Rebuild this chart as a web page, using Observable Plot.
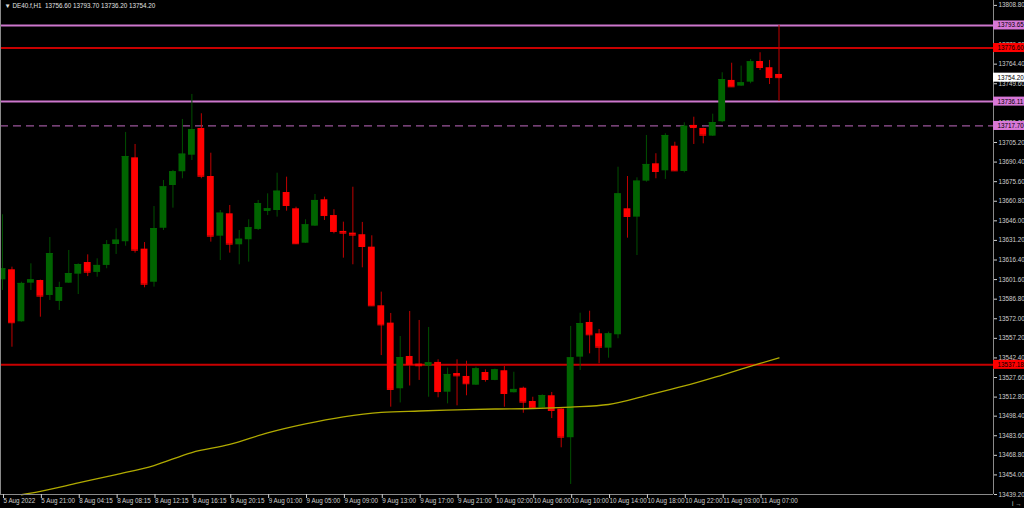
<!DOCTYPE html>
<html><head><meta charset="utf-8">
<script src="https://cdn.jsdelivr.net/npm/d3@7"></script>
<script src="https://cdn.jsdelivr.net/npm/@observablehq/plot@0.6"></script>
<style>
html,body{margin:0;padding:0;background:#000;overflow:hidden}
#chart svg{display:block;overflow:visible}
</style></head><body><div id="chart"></div>
<script>
const symbol = "DE40.f,H1";
const opens = [13601.4,13609.0,13569.7,13598.9,13600.9,13589.6,13585.1,13598.9,13605.7,13614.5,
13607.0,13612.3,13628.1,13630.2,13693.6,13624.6,13599.6,13640.4,13672.7,13683.1,
13695.6,13715.8,13679.5,13634.4,13651.3,13627.9,13631.7,13639.5,13653.1,13653.8,
13667.4,13655.1,13629.1,13642.0,13661.9,13650.0,13638.0,13636.7,13635.5,13626.1,
13581.8,13568.7,13519.1,13543.5,13537.7,13536.2,13539.0,13516.5,13530.6,13528.4,
13521.8,13531.4,13525.4,13532.7,13516.1,13519.5,13509.5,13504.7,13513.8,13503.7,
13482.1,13543.0,13569.2,13560.6,13549.8,13559.9,13655.1,13648.8,13676.0,13689.1,
13683.8,13702.4,13683.3,13718.1,13715.8,13710.0,13720.9,13752.1,13747.8,13750.8,
13766.4,13761.7,13756.6];
const highs = [13650.6,13611.0,13599.6,13613.5,13601.2,13633.4,13599.6,13623.6,13613.5,13620.3,
13617.3,13631.1,13640.0,13712.8,13703.7,13629.6,13656.8,13676.5,13684.1,13722.6,
13741.5,13726.9,13697.1,13653.8,13657.6,13638.7,13646.8,13661.4,13666.4,13682.0,
13679.0,13656.3,13646.8,13665.9,13663.9,13654.4,13645.0,13671.4,13644.8,13634.7,
13592.1,13576.0,13558.6,13577.5,13570.7,13565.4,13541.0,13534.7,13541.0,13539.9,
13535.4,13533.4,13533.9,13535.9,13531.6,13520.3,13512.7,13514.5,13516.3,13503.9,
13566.2,13576.2,13577.7,13563.9,13561.9,13686.5,13679.5,13678.5,13710.5,13696.7,
13711.8,13705.4,13720.1,13724.3,13716.0,13726.6,13757.9,13765.1,13762.9,13767.9,
13773.0,13767.2,13793.7];
const lows = [13593.4,13550.5,13569.4,13593.4,13573.2,13585.8,13578.3,13598.7,13590.3,13603.9,
13603.4,13609.8,13620.6,13626.8,13621.6,13595.4,13595.9,13638.7,13655.6,13677.8,
13691.6,13677.8,13629.9,13616.0,13621.6,13612.8,13614.8,13638.7,13650.0,13648.8,
13653.3,13628.1,13628.9,13641.8,13646.3,13636.2,13617.8,13612.8,13610.5,13581.5,
13544.2,13505.2,13508.4,13521.2,13525.4,13512.7,13512.3,13507.7,13506.2,13513.8,
13521.6,13524.1,13525.2,13505.2,13515.9,13500.6,13504.0,13504.5,13496.6,13474.5,
13446.8,13532.9,13545.5,13538.0,13542.2,13556.9,13632.9,13619.8,13675.2,13677.8,
13677.3,13683.3,13682.3,13703.7,13704.2,13709.8,13720.1,13747.1,13747.6,13749.6,
13759.6,13749.0,13736.2];
const closes = [13609.8,13569.0,13598.7,13601.4,13589.1,13621.3,13595.6,13606.2,13613.0,13607.2,
13612.3,13627.9,13631.4,13694.6,13623.8,13598.1,13640.2,13671.7,13683.1,13696.4,
13715.0,13679.7,13634.4,13651.8,13628.4,13632.1,13640.8,13659.1,13655.1,13668.4,
13657.6,13628.7,13643.0,13661.4,13650.0,13638.0,13636.7,13635.2,13626.6,13581.8,
13567.4,13518.6,13542.7,13537.4,13536.5,13538.7,13517.0,13529.9,13528.9,13522.9,
13534.2,13526.1,13533.4,13515.5,13518.6,13509.0,13504.4,13514.0,13502.7,13482.5,
13542.5,13568.4,13559.9,13550.5,13560.6,13666.4,13649.3,13676.0,13688.6,13683.3,
13710.5,13683.8,13717.5,13716.5,13710.7,13720.3,13752.8,13747.3,13750.3,13766.2,
13761.9,13754.3,13754.2];

const xTickBars = [0,4,8,12,16,20,24,28,32,36,40,44,48,52,56,60,64,68,72,76,80];
const xTickLabels = ["5 Aug 2022","5 Aug 21:00","8 Aug 04:15","8 Aug 08:15","8 Aug 12:15","8 Aug 16:15","8 Aug 20:15","9 Aug 01:00","9 Aug 05:00","9 Aug 09:00","9 Aug 13:00","9 Aug 17:00","9 Aug 21:00","10 Aug 02:00","10 Aug 06:00","10 Aug 10:00","10 Aug 14:00","10 Aug 18:00","10 Aug 22:00","11 Aug 03:00","11 Aug 07:00"];
const yTickValues = [13439.20,13454.00,13468.80,13483.60,13498.40,13512.80,13527.60,13542.40,13557.20,13572.00,13586.80,13601.60,13616.40,13631.20,13646.00,13660.80,13675.60,13690.40,13705.20,13720.00,13734.80,13749.60,13764.40,13779.20,13794.00,13808.80];

const maBars = [2,4,8,12,16,20,24,28,32,36,40,44,48,52,56,60,64,68,72,76,80,82];
const maValues = [13439.0,13441.5,13447.9,13454.3,13461.1,13470.9,13477.0,13485.7,13492.5,13497.8,13501.2,13502.3,13503.1,13503.8,13504.2,13505.3,13507.2,13514.0,13521.2,13529.5,13538.2,13542.4];

const levelPrices = [13793.65, 13776.60, 13736.11, 13717.70, 13537.18];
const levelTypes = ["violet", "red", "violet", "dashed", "red"];

// ---- build tables ----
const bars = opens.map((o, i) => ({i, open: o, high: highs[i], low: lows[i], close: closes[i], up: closes[i] >= o}));
const ma = maBars.map((b, k) => ({i: b, v: maValues[k]}));
const levels = levelPrices.map((p, k) => ({price: p, type: levelTypes[k]}));
const last = bars[bars.length - 1];
const tags = [...levels.map(d => ({price: d.price, type: d.type})), {price: last.close, type: "bid"}]
  .sort((a, b) => b.price - a.price);
const tagFill = {violet: "#d878d8", dashed: "#d878d8", red: "#ff0000", bid: "#ffffff"};

const UP_BODY = "#006400", UP_WICK = "#005000", DN_BODY = "#ff0000", DN_WICK = "#c00000";
const half = 0.36;
const FS = 6.3;
const titleText = `\u25BC ${symbol}  ${last.open.toFixed(2)} ${last.high.toFixed(2)} ${last.low.toFixed(2)} ${last.close.toFixed(2)}`;

const chart = Plot.plot({
  width: 1024, height: 508,
  marginLeft: 0, marginRight: 31, marginTop: 0, marginBottom: 14,
  style: {background: "#000", color: "#d0d0d0", fontFamily: "'Liberation Sans', Arial, sans-serif", fontSize: FS + "px", overflow: "visible"},
  x: {domain: [-0.21, 104.65], axis: null},
  y: {domain: [13439.2, 13812.5], axis: null},
  marks: [
    Plot.ruleY(levels.filter(d => d.type === "violet"), {y: "price", stroke: "#cc77cc", strokeWidth: 2}),
    Plot.ruleY(levels.filter(d => d.type === "red"), {y: "price", stroke: "#c80000", strokeWidth: 2}),
    Plot.ruleY(levels.filter(d => d.type === "dashed"), {y: "price", stroke: "#9a559a", strokeWidth: 1.2, strokeDasharray: "8,5"}),
    Plot.ruleX(bars, {x: "i", y1: "low", y2: "high", stroke: d => d.up ? UP_WICK : DN_WICK, strokeWidth: 1}),
    Plot.rect(bars, {x1: d => d.i - half, x2: d => d.i + half, y1: "open", y2: "close", fill: d => d.up ? UP_BODY : DN_BODY}),
    Plot.ruleY(bars, {y: "close", x1: d => d.i - half, x2: d => d.i + half, stroke: d => d.up ? UP_BODY : DN_BODY, strokeWidth: 1}),
    Plot.line(ma, {x: "i", y: "v", stroke: "#b0aa00", strokeWidth: 1.3, curve: "monotone-x"}),
    Plot.ruleX([-0.21, 104.65], {stroke: "#8a8a8a"}),
    Plot.ruleY([13439.2], {stroke: "#8a8a8a"}),
    Plot.axisY(yTickValues, {anchor: "right", tickSize: 3, tickPadding: 2, tickFormat: d => d.toFixed(2), color: "#cfcfcf", fontSize: FS}),
    Plot.axisX(xTickBars, {anchor: "bottom", tickSize: 4, tickPadding: 0, tickFormat: d => xTickLabels[xTickBars.indexOf(d)], textAnchor: "start", dx: 1, color: "#cfcfcf", fontSize: FS}),
    Plot.text(tags, {y: "price", text: d => d.price.toFixed(2), frameAnchor: "right", textAnchor: "start", dx: 4, fill: "#000", fontSize: FS}),
    Plot.text([titleText], {text: d => d, frameAnchor: "top-left", dx: 4, dy: 3, textAnchor: "start", lineAnchor: "top", fill: "#e0e0e0", fontSize: FS})
  ]
});
document.getElementById("chart").appendChild(chart);

// backgrounds for the price tags on the right scale (matched by their text)
const tagStrings = tags.map(t => t.price.toFixed(2));
Array.from(chart.querySelectorAll("text")).forEach(node => {
  const k = tagStrings.indexOf(node.textContent.trim());
  if (k < 0) return;
  const b = node.getBBox();
  const cy = b.y + b.height / 2;
  const rect = document.createElementNS("http://www.w3.org/2000/svg", "rect");
  const tr = node.getAttribute("transform");
  if (tr) rect.setAttribute("transform", tr);
  rect.setAttribute("x", b.x - 4.5); rect.setAttribute("y", cy - 4.5);
  rect.setAttribute("width", 31); rect.setAttribute("height", 9);
  rect.setAttribute("fill", tagFill[tags[k].type]);
  node.parentNode.insertBefore(rect, node);
});
</script>
</body></html>
